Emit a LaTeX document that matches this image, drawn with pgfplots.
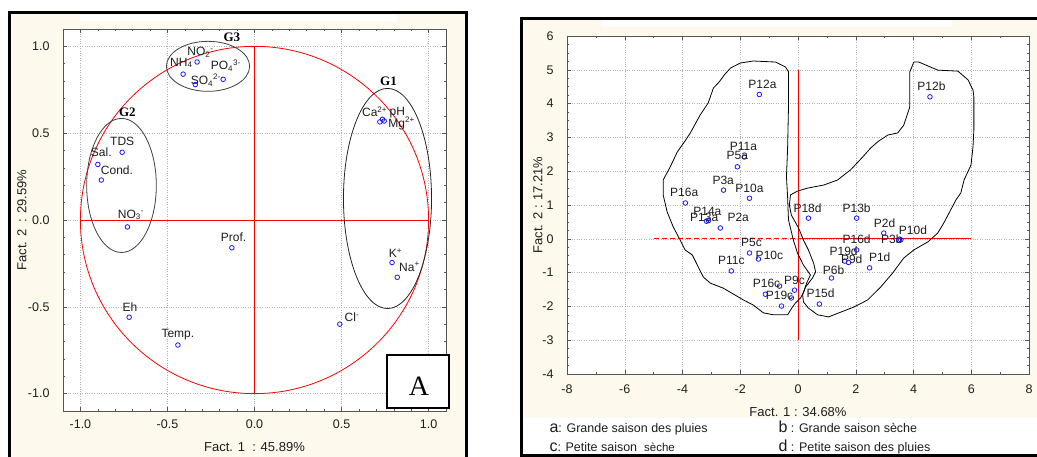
\documentclass[border=0pt]{standalone}
\usepackage{pgfplots}
\pgfplotsset{compat=1.18}
\usepackage{fontspec}
\setmainfont{Liberation Sans}
\newfontfamily\seriffont{Liberation Serif}
\definecolor{cream}{RGB}{254,249,237}
\definecolor{axgray}{RGB}{85,85,85}
\definecolor{ptblue}{RGB}{25,25,255}
\definecolor{txt}{RGB}{30,30,30}

\pgfplotsset{
  statstyle/.style={
    anchor=south west, scale only axis,
    axis background/.style={fill=white},
    grid=major, major grid style={black!30, dotted},
    axis line style={axgray}, tick style={axgray, line width=0.5pt},
    major tick length=4pt, minor tick length=2pt,
    /pgf/number format/assume math mode=true,
    tick label style={font=\fontsize{12.5}{14}\selectfont, text=txt},
  },
  ptlabels/.style={draw=none, mark=none, nodes near coords, point meta=explicit symbolic,
    every node near coord/.append style={anchor=center, inner sep=0pt, text=txt, font=\fontsize{12}{14}\selectfont}},
  ptmarks/.style={only marks, mark=o, mark size=2.3pt, ptblue, mark options={line width=0.8pt}},
}

\begin{document}
\begin{tikzpicture}[x=1pt,y=1pt]
\useasboundingbox (0,0) rectangle (1037,457);
\fill[white] (0,0) rectangle (1037,457);
% ---------- left panel frame ----------
\fill[cream] (10,0) rectangle (466,444);
\fill[white] (80,436) rectangle (397,442);
\draw[black, line width=3.5pt] (9.5,-5) -- (9.5,444.5) -- (466.5,444.5) -- (466.5,-5);
% ---------- right panel frame ----------
\fill[cream] (521,39) rectangle (1037,438);
\fill[white] (521,0) rectangle (1037,39);
\fill[white] (603,430) rectangle (952,436);
\draw[black, line width=3pt] (1042,438.5) -- (521.5,438.5) -- (521.5,1) -- (1042,1);

% ================= LEFT AXIS =================
\begin{axis}[statstyle,
  at={(63pt,46pt)}, width=383pt, height=382pt,
  xmin=-1.1, xmax=1.1, ymin=-1.1, ymax=1.1,
  xtick={-1,-0.5,0,0.5,1}, ytick={-1,-0.5,0,0.5,1},
  minor tick num=4,
  xticklabel={\pgfmathprintnumber[fixed,fixed zerofill,precision=1]{\tick}},
  yticklabel={\pgfmathprintnumber[fixed,fixed zerofill,precision=1]{\tick}},
  xticklabel style={yshift=-5pt}, yticklabel style={xshift=-10pt},
  xlabel={Fact. 1\ \ : 45.89\%}, ylabel={Fact. 2\ \ : 29.59\%},
  every axis x label/.style={at={(axis description cs:0.5,-0.094)}, anchor=center, font=\fontsize{13}{15}\selectfont, text=txt},
  every axis y label/.style={at={(axis description cs:-0.107,0.5)}, anchor=center, rotate=90, font=\fontsize{13}{15}\selectfont, text=txt},
]
\draw[red, line width=0.8pt] (axis cs:0,0) ellipse [x radius=1, y radius=1];
\addplot[red, line width=0.9pt] coordinates {(-1,0) (1,0)};
\addplot[red, line width=0.9pt] coordinates {(0,-1) (0,1)};
\draw[black!75, line width=0.8pt] (axis cs:-0.267,0.885) ellipse [x radius=0.239, y radius=0.144];
\draw[black!75, line width=0.8pt] (axis cs:-0.764,0.199) ellipse [x radius=0.20, y radius=0.386];
\draw[black!85, line width=0.8pt] (axis cs:0.764,0.124) ellipse [x radius=0.253, y radius=0.634];
\node[font=\seriffont\bfseries\fontsize{13}{15}\selectfont] at (axis cs:-0.13,1.05) {G3};
\node[font=\seriffont\bfseries\fontsize{13}{15}\selectfont] at (axis cs:-0.73,0.62) {G2};
\node[font=\seriffont\bfseries\fontsize{13}{15}\selectfont] at (axis cs:0.77,0.80) {G1};
\addplot[ptmarks] table {
x y
-0.33 0.91
-0.41 0.84
-0.34 0.78
-0.18 0.81
-0.76 0.39
-0.90 0.32
-0.88 0.23
-0.73 -0.04
-0.13 -0.16
0.72 0.565
0.735 0.58
0.745 0.57
0.79 -0.245
0.82 -0.33
-0.72 -0.56
-0.44 -0.72
0.49 -0.60
};
\addplot[ptlabels] table[meta=lab] {
x y lab
-0.31 0.965 {NO\textsubscript{2}\textsuperscript{-}}
-0.42 0.905 {NH\textsubscript{4}}
-0.165 0.89 {PO\textsubscript{4}\textsuperscript{3-}}
-0.28 0.805 {SO\textsubscript{4}\textsuperscript{2-}}
-0.76 0.45 {TDS}
-0.88 0.39 {Sal.}
-0.79 0.285 {Cond.}
-0.71 0.03 {NO\textsubscript{3}\textsuperscript{-}}
-0.12 -0.10 {Prof.}
0.69 0.625 {Ca\textsuperscript{2+}}
0.82 0.62 {pH}
0.845 0.555 {Mg\textsuperscript{2+}}
0.81 -0.19 {K\textsuperscript{+}}
0.89 -0.27 {Na\textsuperscript{+}}
-0.715 -0.50 {Eh}
-0.44 -0.66 {Temp.}
0.56 -0.56 {Cl\textsuperscript{-}}
};
\end{axis}
% box A
\draw[black, line width=1.5pt, fill=white] (387,49) rectangle (449,102);
\node[anchor=base, font=\seriffont\fontsize{28}{30}\selectfont] at (419,61) {A};

% ================= RIGHT AXIS =================
\begin{axis}[statstyle,
  at={(567pt,83pt)}, width=462pt, height=338pt,
  xmin=-8, xmax=8, ymin=-4, ymax=6,
  xtick={-8,-6,-4,-2,0,2,4,6,8}, ytick={-4,-3,-2,-1,0,1,2,3,4,5,6},
  minor x tick num=1, minor y tick num=3,
  xticklabel style={yshift=-7pt}, yticklabel style={xshift=-10pt},
  xlabel={Fact. 1 : 34.68\%}, ylabel={Fact. 2 : 17.21\%},
  every axis x label/.style={at={(axis description cs:0.5,-0.112)}, anchor=center, font=\fontsize{13}{15}\selectfont, text=txt},
  every axis y label/.style={at={(axis description cs:-0.063,0.5)}, anchor=center, rotate=90, font=\fontsize{13}{15}\selectfont, text=txt},
]
\addplot[red, line width=0.9pt] coordinates {(0,-3) (0,5)};
\addplot[red, line width=0.9pt, dash pattern=on 5pt off 3pt] coordinates {(-5,0) (0,0)};
\addplot[red, line width=0.9pt] coordinates {(0,0) (6,0)};
% outline a/c
\addplot[black, line width=0.8pt] coordinates {
(-2.00,5.20) (-1.55,5.26) (-0.78,5.23) (-0.43,5.08) (-0.33,4.94) (-0.33,3.90)
(-0.36,2.69) (-0.40,1.83) (-0.36,1.24) (-0.33,0.56) (-0.16,-0.04) (-0.02,-0.42)
(0.19,-0.78) (0.43,-1.07) (0.30,-1.31) (0.19,-1.58) (0.09,-1.75) (-0.09,-1.90)
(-0.23,-2.07) (-0.36,-2.25) (-0.85,-2.25) (-1.20,-2.19) (-1.55,-1.96) (-1.89,-1.81)
(-2.59,-1.46) (-3.04,-1.31) (-3.28,-1.13) (-3.45,-0.84) (-3.66,-0.48) (-3.91,-0.33)
(-4.08,-0.04) (-4.32,0.35) (-4.53,0.79) (-4.67,1.30) (-4.67,1.74) (-4.43,2.12)
(-4.18,2.57) (-3.94,2.86) (-3.73,3.13) (-3.39,3.66) (-3.11,4.02) (-2.93,4.46)
(-2.73,4.64) (-2.55,4.85) (-2.34,5.05) (-2.00,5.20)
};
% outline b/d
\addplot[black, line width=0.8pt] coordinates {
(4.01,5.23) (4.18,5.23) (4.84,4.99) (5.54,4.96) (5.89,4.70) (6.06,4.40) (6.09,4.20)
(6.09,3.22) (6.06,2.72) (5.99,2.18) (5.75,1.74) (5.64,1.36) (5.47,1.15) (5.05,0.47)
(4.84,0.17) (4.50,-0.09) (4.01,-0.33) (3.66,-0.57) (3.28,-1.01) (2.86,-1.43)
(2.41,-1.81) (1.93,-2.02) (1.48,-2.17) (1.06,-2.31) (0.68,-2.25) (0.36,-2.05)
(0.19,-1.87) (0.16,-1.66) (0.26,-1.43) (0.50,-1.16) (0.61,-0.98) (0.54,-0.72)
(0.36,-0.33) (0.19,-0.04) (0.02,0.32) (-0.23,0.70) (-0.30,1.00) (-0.26,1.30)
(-0.02,1.41) (0.33,1.50) (0.89,1.59) (1.37,1.74) (1.82,2.04) (2.24,2.42) (2.52,2.69)
(2.76,2.87) (3.11,3.07) (3.45,3.13) (3.66,3.36) (3.80,3.72) (3.87,3.90) (3.87,4.93)
(4.01,5.23)
};
\addplot[ptmarks] table {
x y
-1.34 4.27
4.57 4.20
-1.86 2.42
-2.10 2.13
-2.58 1.44
-1.68 1.20
-3.90 1.06
-3.10 0.54
-3.17 0.52
-2.69 0.32
-1.68 -0.42
-1.37 -0.60
-2.31 -0.95
-1.13 -1.64
-0.12 -1.52
-0.57 -1.99
-0.64 -1.40
-0.23 -1.75
0.36 0.61
2.03 0.61
2.97 0.17
3.48 -0.04
3.56 -0.03
2.03 -0.33
1.62 -0.66
1.75 -0.70
2.48 -0.86
1.16 -1.16
0.74 -1.93
};
\addplot[ptlabels] table[meta=lab] {
x y lab
-1.23 4.57 P12a
4.62 4.51 P12b
-1.89 2.74 P11a
-2.10 2.48 P5a
-2.59 1.74 P3a
-1.68 1.50 P10a
-3.94 1.36 P16a
-3.14 0.82 P14a
-3.25 0.62 P13a
-2.07 0.62 P2a
-1.61 -0.12 P5c
-0.99 -0.48 P10c
-2.31 -0.63 P11c
-1.09 -1.31 P16c
-0.12 -1.22 P9c
-0.64 -1.66 P19c
0.33 0.91 P18d
2.03 0.91 P13b
3.00 0.47 P2d
3.25 0.00 P3b
3.98 0.26 P10d
2.03 0.00 P16d
1.58 -0.36 P19d
1.86 -0.60 P9d
2.83 -0.54 P1d
1.23 -0.92 P6b
0.78 -1.60 P15d
};
\end{axis}
% legend text
\node[anchor=base west, font=\fontsize{12.5}{14}\selectfont, text=txt] at (546,24) {{\fontsize{16}{16}\selectfont a}: Grande saison des pluies};
\node[anchor=base west, font=\fontsize{12.5}{14}\selectfont, text=txt] at (546,5) {{\fontsize{16}{16}\selectfont c}: Petite saison\ \ {\fontsize{11.5}{12}\selectfont s\`eche}};
\node[anchor=base west, font=\fontsize{12.5}{14}\selectfont, text=txt] at (775,24) {{\fontsize{16}{16}\selectfont b} : Grande saison s\`eche};
\node[anchor=base west, font=\fontsize{12.5}{14}\selectfont, text=txt] at (775,5) {{\fontsize{16}{16}\selectfont d} : Petite saison des pluies};
\end{tikzpicture}
\end{document}
